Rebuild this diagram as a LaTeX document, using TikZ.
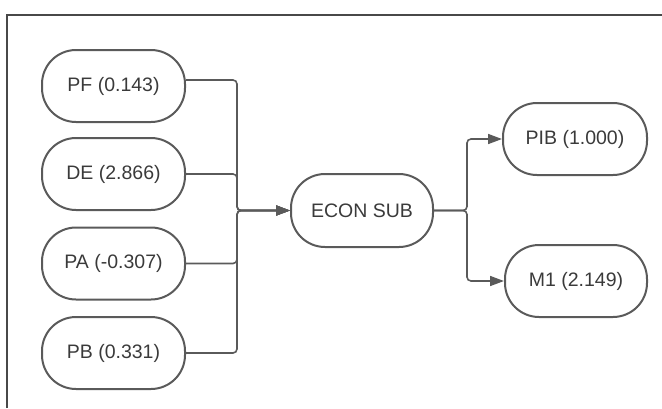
\documentclass[tikz,border=0pt]{standalone}
\usepackage{fontspec}
\setmainfont{Liberation Sans}
\usetikzlibrary{arrows.meta}
\definecolor{edgec}{HTML}{5A5A5A}
\definecolor{textc}{HTML}{3A3A3A}
\begin{document}
\begin{tikzpicture}[x=1pt,y=-1pt,
  pill/.style={draw=edgec,line width=2pt,rounded corners=34pt,minimum width=143pt,minimum height=72pt,
    inner sep=0pt,text=textc,font=\fontsize{19.5}{22}\selectfont},
  conn/.style={draw=edgec,line width=1.6pt,rounded corners=4pt},
  arr/.style={conn,-{Triangle[length=14pt,width=10pt]}}]
\useasboundingbox (0,0) rectangle (662,408);
\draw[edgec!80!black,line width=1.3pt] (7,408) -- (7,15) -- (662,15);
\node[pill] (pf) at (113.5,86) {PF (0.143)};
\node[pill] (de) at (113.5,174) {DE (2.866)};
\node[pill] (pa) at (113.5,263.5) {PA (-0.307)};
\node[pill] (pb) at (113.5,353) {PB (0.331)};
\node[pill,minimum width=142pt,minimum height=73pt] (econ) at (362,210.5) {ECON SUB};
\node[pill,minimum width=144pt] (pib) at (575,139) {PIB (1.000)};
\node[pill,minimum width=142pt] (m1) at (576,281) {M1 (2.149)};
\coordinate (jl) at (237,210.5);
\coordinate (jr) at (467,210.5);
\draw[arr] ([yshift=6pt]pf.east) -| (jl) -- (econ.west);
\draw[arr] (de.east) -| (jl) -- (econ.west);
\draw[arr] (pa.east) -| (jl) -- (econ.west);
\draw[arr] (pb.east) -| (jl) -- (econ.west);
\draw[arr] (econ.east) -- (jr) |- (pib.west);
\draw[arr] (econ.east) -- (jr) |- (m1.west);
\end{tikzpicture}
\end{document}
